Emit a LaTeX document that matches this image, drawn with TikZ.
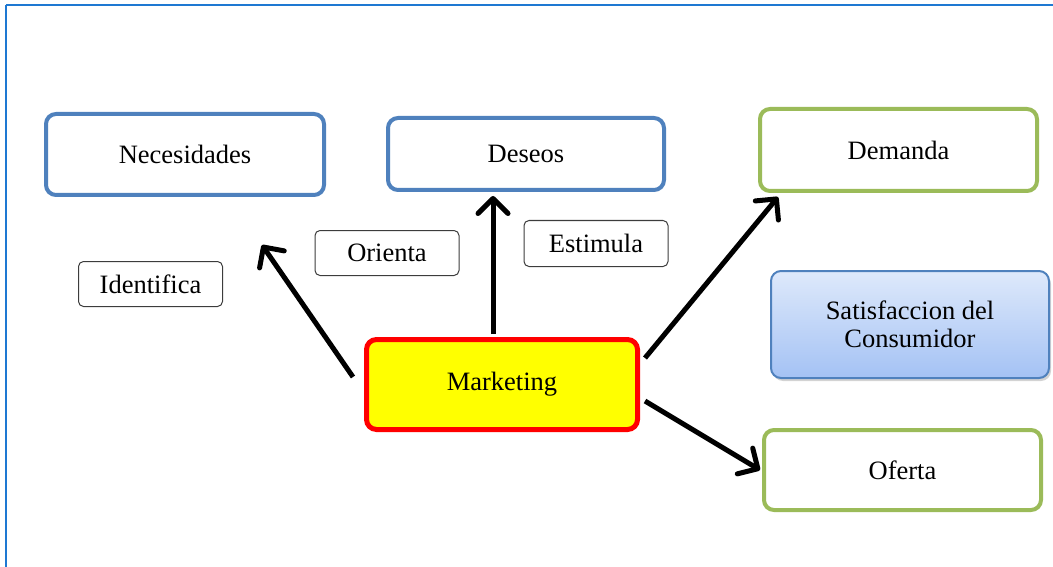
\documentclass[tikz,border=0pt]{standalone}
\usepackage{fontspec}
\setmainfont{Liberation Serif}
\usetikzlibrary{arrows.meta,shadows}

\definecolor{frameblue}{RGB}{30,120,210}
\definecolor{boxblue}{RGB}{79,129,189}
\definecolor{boxgreen}{RGB}{155,187,89}
\definecolor{satitop}{RGB}{222,233,251}
\definecolor{satibot}{RGB}{164,194,244}
\definecolor{labelgray}{RGB}{60,60,60}
\definecolor{mktred}{RGB}{255,0,0}
\definecolor{mktyellow}{RGB}{255,255,0}

\begin{document}
\begin{tikzpicture}[x=1pt,y=-1pt,
	every node/.style={font=\fontsize{26.5}{28.5}\selectfont, inner sep=0pt, align=center},
	bluebox/.style={rectangle, rounded corners=10pt, draw=boxblue, line width=4pt, fill=white},
	greenbox/.style={rectangle, rounded corners=10pt, draw=boxgreen, line width=4pt, fill=white},
	labelbox/.style={rectangle, rounded corners=5pt, draw=labelgray, line width=1pt, fill=white,
		minimum width=144pt, minimum height=45pt},
	thickarrow/.style={line width=5pt, -{Straight Barb[length=15pt, width=30pt, round]}}]
\useasboundingbox (0,0) rectangle (1053,567);

% frame
\draw[frameblue, line width=2pt] (6,567) -- (6,5);
\draw[frameblue, line width=1.2pt] (6,5) -- (1053,5);

% boxes
\node[bluebox, minimum width=278pt, minimum height=81pt] (nec) at (185,154.5) {Necesidades};
\node[bluebox, minimum width=276pt, minimum height=72pt] (des) at (526,154) {Deseos};
\node[greenbox, minimum width=277pt, minimum height=82pt] (dem) at (898.5,150) {Demanda};
\node[greenbox, minimum width=277pt, minimum height=80pt] (ofe) at (902.5,470) {Oferta};
\node[rectangle, rounded corners=10pt, draw=mktred, line width=5pt, fill=mktyellow,
	minimum width=271pt, minimum height=90pt] (mkt) at (502,384.5) {Marketing};
\node[rectangle, rounded corners=10pt, draw=boxblue, line width=2pt,
	top color=satitop, bottom color=satibot,
	drop shadow={shadow xshift=2pt, shadow yshift=-3pt, opacity=0.35},
	minimum width=278pt, minimum height=107pt] (sat) at (910,324.5) {Satisfaccion del\\Consumidor};

% labels
\node[labelbox] (ide) at (150.5,284) {Identifica};
\node[labelbox] (ori) at (387,253) {Orienta};
\node[labelbox, minimum height=46pt] (est) at (596,243.5) {Estimula};

% arrow ends
\coordinate (mkt-nec) at (353,377);
\coordinate (nec-in) at (262,245);
\coordinate (mkt-des) at (493,334);
\coordinate (des-in) at (493,196);
\coordinate (mkt-dem) at (645,358);
\coordinate (dem-in) at (778,197);
\coordinate (mkt-ofe) at (645,401);
\coordinate (ofe-in) at (760,470);

\draw[thickarrow] (mkt-nec) -- (nec-in);
\draw[thickarrow] (mkt-des) -- (des-in);
\draw[thickarrow] (mkt-dem) -- (dem-in);
\draw[thickarrow] (mkt-ofe) -- (ofe-in);
\end{tikzpicture}
\end{document}
